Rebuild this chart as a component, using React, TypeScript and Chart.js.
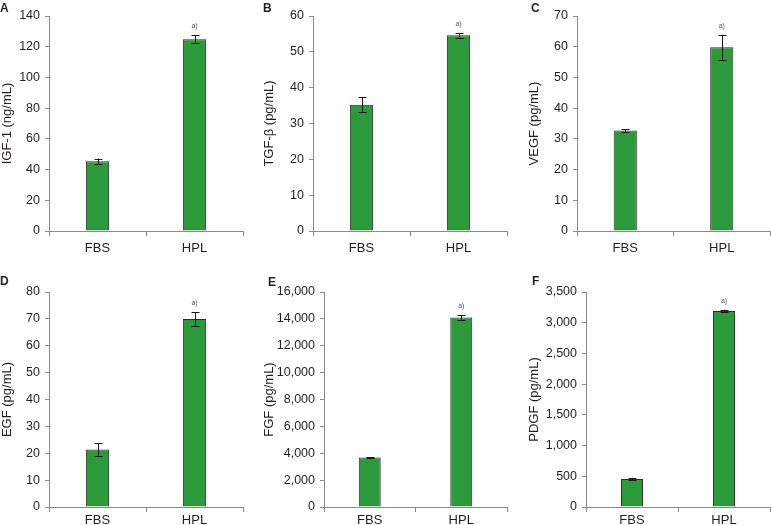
import React, { useEffect, useRef } from "react";
import { Chart, registerables } from "chart.js";

Chart.register(...registerables);

const categories = ["FBS", "HPL"];
const significance = ["", "a)"];

const igf1 = [45.4, 124.8];
const igf1Err = [1.8, 2.7];
const tgfb = [35.2, 54.6];
const tgfbErr = [2.1, 0.6];
const vegf = [32.7, 59.8];
const vegfErr = [0.5, 4.1];
const egf = [21.4, 70.0];
const egfErr = [2.3, 2.5];
const fgf = [3680, 14100];
const fgfErr = [30, 180];
const pdgf = [455, 3190];
const pdgfErr = [20, 20];

const yTitles = ["IGF-1 (ng/mL)", "TGF-β (pg/mL)", "VEGF (pg/mL)", "EGF (pg/mL)", "FGF (pg/mL)", "PDGF (pg/mL)"];
const yMaxes = [140, 60, 70, 80, 16000, 3500];
const ySteps = [20, 10, 10, 10, 2000, 500];
const panelLetters = ["A", "B", "C", "D", "E", "F"];

const FONT = "'Liberation Sans', Arial, Helvetica, sans-serif";
const TEXT = "#231f20";
const AXIS = "#8a8a8a";
const BAR = "#2c993b";
const BAR_BORDER = "#1b351d";

type Box = {
  left: number; top: number; width: number; height: number;
  axisX: number; right: number; plotTop: number; plotBottom: number; labelPad: number;
};

const boxes: Box[] = [
  { left: 0, top: 0, width: 250, height: 260, axisX: 49, right: 243, plotTop: 16, plotBottom: 231, labelPad: 5 },
  { left: 262, top: 0, width: 250, height: 260, axisX: 313, right: 507, plotTop: 16, plotBottom: 231, labelPad: 5 },
  { left: 527, top: 0, width: 244, height: 260, axisX: 577, right: 770, plotTop: 16, plotBottom: 231, labelPad: 5 },
  { left: 0, top: 260, width: 250, height: 265, axisX: 49, right: 243, plotTop: 292, plotBottom: 507, labelPad: 1 },
  { left: 262, top: 260, width: 250, height: 265, axisX: 324, right: 507, plotTop: 292, plotBottom: 507, labelPad: 1 },
  { left: 527, top: 260, width: 244, height: 265, axisX: 586, right: 770, plotTop: 292, plotBottom: 507, labelPad: 1 },
];

const letterPos = [
  { x: 0, y: 2 }, { x: 263, y: 2 }, { x: 531, y: 2 },
  { x: 0, y: 275 }, { x: 268, y: 276 }, { x: 532, y: 275 },
];

const values = [igf1, tgfb, vegf, egf, fgf, pdgf];
const errors = [igf1Err, tgfbErr, vegfErr, egfErr, fgfErr, pdgfErr];

const errorBarPlugin = {
  id: "errorBars",
  afterDatasetsDraw(chart: any) {
    const ctx = chart.ctx;
    const yScale = chart.scales.y;
    chart.data.datasets.forEach((ds: any, di: number) => {
      const meta = chart.getDatasetMeta(di);
      const errs: number[] = ds.errors || [];
      const sig: string[] = ds.significance || [];
      meta.data.forEach((bar: any, i: number) => {
        const v = ds.data[i];
        const e = errs[i] || 0;
        const x = bar.x;
        const yTop = yScale.getPixelForValue(v + e);
        const yBot = yScale.getPixelForValue(v - e);
        ctx.save();
        ctx.strokeStyle = "#1a1a1a";
        ctx.lineWidth = 1;
        ctx.beginPath();
        const cx = Math.round(x) + 0.5;
        ctx.moveTo(cx, yTop);
        ctx.lineTo(cx, yBot);
        ctx.moveTo(cx - 4, Math.round(yTop) + 0.5);
        ctx.lineTo(cx + 4, Math.round(yTop) + 0.5);
        ctx.moveTo(cx - 4, Math.round(yBot) + 0.5);
        ctx.lineTo(cx + 4, Math.round(yBot) + 0.5);
        ctx.stroke();
        if (sig[i]) {
          ctx.fillStyle = "#555";
          ctx.font = `7px ${FONT}`;
          ctx.textAlign = "center";
          ctx.textBaseline = "middle";
          ctx.fillText(sig[i], x, yTop - 9);
        }
        ctx.restore();
      });
    });
  },
};

function Panel({ idx }: { idx: number }) {
  const ref = useRef<HTMLCanvasElement>(null);
  const b = boxes[idx];
  useEffect(() => {
    if (!ref.current) return;
    const yWidth = b.axisX - b.left;
    const xHeight = b.top + b.height - b.plotBottom;
    const chart = new Chart(ref.current, {
      type: "bar",
      data: {
        labels: categories,
        datasets: [
          {
            data: values[idx],
            errors: errors[idx],
            significance,
            backgroundColor: BAR,
            borderColor: BAR_BORDER,
            borderWidth: 1,
            categoryPercentage: 1,
            barPercentage: 0.24,
          } as any,
        ],
      },
      options: {
        animation: false,
        responsive: false,
        maintainAspectRatio: false,
        devicePixelRatio: 1,
        layout: {
          padding: { top: b.plotTop - b.top, right: b.left + b.width - b.right, left: 0, bottom: 0 },
        },
        plugins: { legend: { display: false }, tooltip: { enabled: false }, title: { display: false } },
        scales: {
          x: {
            type: "category",
            offset: true,
            grid: { display: true, drawOnChartArea: false, drawTicks: true, tickLength: 5, color: AXIS, offset: true },
            border: { display: true, color: AXIS, width: 1 },
            ticks: { color: TEXT, font: { size: 13, family: FONT }, padding: b.labelPad, maxRotation: 0 },
            afterFit: (s: any) => { s.height = xHeight; },
          },
          y: {
            min: 0,
            max: yMaxes[idx],
            grid: { display: true, drawOnChartArea: false, drawTicks: true, tickLength: 4, color: AXIS },
            border: { display: true, color: AXIS, width: 1 },
            ticks: { stepSize: ySteps[idx], color: TEXT, font: { size: 12.5, family: FONT }, padding: 5 },
            title: { display: true, text: yTitles[idx], color: TEXT, font: { size: 13, family: FONT }, padding: 0 },
            afterFit: (s: any) => { s.width = yWidth; },
          },
        },
      },
      plugins: [errorBarPlugin],
    });
    return () => chart.destroy();
  }, [idx]);
  return (
    <canvas
      ref={ref}
      width={b.width}
      height={b.height}
      style={{ position: "absolute", left: b.left, top: b.top, width: b.width, height: b.height }}
    />
  );
}

export default function App() {
  return (
    <div style={{ position: "absolute", left: 0, top: 0, width: 771, height: 525, background: "#fff", overflow: "hidden" }}>
      {boxes.map((_, i) => (
        <Panel key={i} idx={i} />
      ))}
      {panelLetters.map((l, i) => (
        <div
          key={l}
          style={{
            position: "absolute",
            left: letterPos[i].x,
            top: letterPos[i].y,
            font: `bold 12px ${FONT}`,
            lineHeight: "12px",
            color: TEXT,
          }}
        >
          {l}
        </div>
      ))}
    </div>
  );
}
